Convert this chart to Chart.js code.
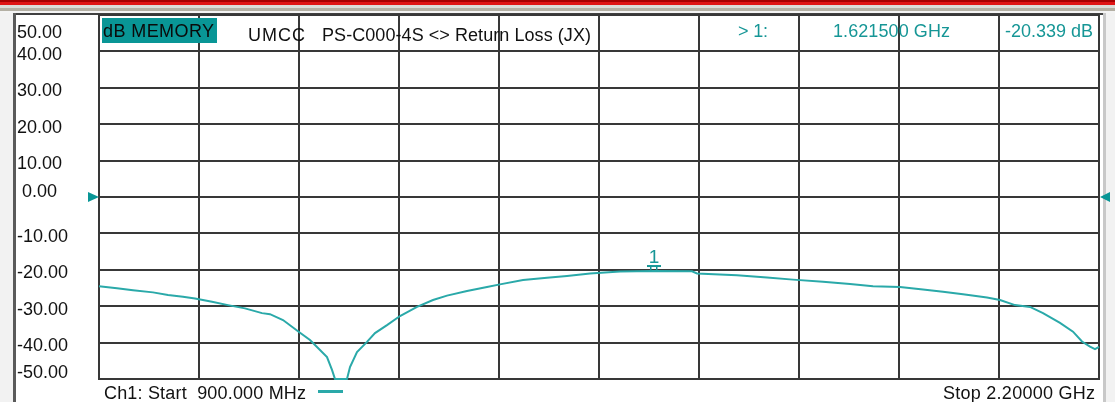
<!DOCTYPE html>
<html><head><meta charset="utf-8">
<script src="https://cdn.jsdelivr.net/npm/chart.js@4.4.1/dist/chart.umd.min.js"></script>
<style>html,body{margin:0;padding:0;background:#fff;overflow:hidden}#wrap{position:relative;width:1115px;height:402px}</style>
</head><body><div id="wrap"><canvas id="c" width="1115" height="402"></canvas></div>
<script>
// ---- data ----
const freqMHz = [900, 923.4, 944.2, 970.2, 989.7, 1009.2, 1024.8, 1046.9, 1067.7, 1089.8, 1111.9, 1122.3, 1139.2, 1160, 1174.3, 1183.4, 1196.4, 1202.9, 1206.8, 1214.6, 1222.4, 1226.3, 1235.4, 1248.4, 1258.8, 1274.4, 1291.3, 1313.4, 1334.2, 1352.4, 1378.4, 1404.4, 1421.3, 1451.2, 1482.4, 1508.4, 1538.3, 1577.3, 1621.5, 1670.9, 1677.4, 1729.4, 1768.4, 1802.2, 1841.2, 1876.3, 1906.2, 1941.3, 1971.2, 1997.2, 2023.2, 2054.4, 2071.3, 2090.8, 2110.3, 2127.2, 2149.3, 2166.2, 2177.9, 2188.3, 2194.8, 2200];
const lossDb = [-24.5, -25.1, -25.6, -26.2, -26.9, -27.4, -27.9, -28.8, -29.7, -30.6, -31.9, -32.2, -33.8, -37.1, -39.3, -41.2, -44.0, -47.5, -50, -50, -50, -46.7, -42.6, -39.8, -37.4, -35.2, -32.7, -30.2, -28.3, -27.1, -25.8, -24.7, -24.0, -22.8, -22.2, -21.7, -21.0, -20.5, -20.339, -20.4, -21.0, -21.5, -22.1, -22.7, -23.3, -23.9, -24.5, -24.7, -25.4, -26.0, -26.7, -27.6, -28.3, -29.7, -30.2, -31.9, -34.6, -37.0, -39.7, -41.1, -41.8, -41.2];
const startMHz = 900;
const stopMHz = 2200;
const xDivisions = 10;
const yMinDb = -50;
const yMaxDb = 50;
const yStepDb = 10;
const markerLabel = '1';
const markerFreqMHz = 1621.5;
const markerDb = -20.339;
const memoryTag = 'dB MEMORY';
const titleLeft = 'UMCC';
const titleMain = 'PS-C000-4S <> Return Loss (JX)';
const channelName = 'Ch1';

// ---- styles ----
const TEAL_TRACE = '#2aa9a9';
const TEAL_TEXT = '#169696';
const TEAL_BOX = '#099696';
const GRID = '#383838';
const TEXT = '#111';
const FONT = '"Liberation Sans", Arial, sans-serif';

function fitText(ctx, txt, x, base, w, color, size) {
  ctx.font = size + 'px ' + FONT;
  ctx.fillStyle = color;
  ctx.textAlign = 'left';
  ctx.textBaseline = 'alphabetic';
  const m = ctx.measureText(txt).width;
  if ('letterSpacing' in ctx && txt.length > 1) {
    ctx.letterSpacing = ((w - m) / (txt.length - 1)) + 'px';
    ctx.fillText(txt, x, base);
    ctx.letterSpacing = '0px';
  } else {
    ctx.save(); ctx.translate(x, base); ctx.scale(w / m, 1); ctx.fillText(txt, 0, 0); ctx.restore();
  }
}

const decor = {
  id: 'decor',
  beforeDraw(chart) {
    const ctx = chart.ctx;
    ctx.save();
    ctx.fillStyle = '#ffffff'; ctx.fillRect(0, 0, 1115, 402);
    ctx.fillStyle = '#f2f2f2'; ctx.fillRect(0, 13, 13, 389); ctx.fillRect(1106, 13, 9, 389);
    ctx.fillStyle = '#a80000'; ctx.fillRect(0, 0, 1115, 2);
    ctx.fillStyle = '#e01414'; ctx.fillRect(0, 2, 1115, 3);
    ctx.fillStyle = '#dcdcd8'; ctx.fillRect(0, 5, 1115, 3);
    ctx.fillStyle = '#b4b0a4'; ctx.fillRect(0, 8, 1115, 3);
    ctx.fillStyle = '#f4f4f4'; ctx.fillRect(0, 11, 1115, 2);
    ctx.fillStyle = '#404040'; ctx.fillRect(13, 13, 1092, 2);
    ctx.fillStyle = '#5a5a5a'; ctx.fillRect(13, 13, 3, 389);
    ctx.fillStyle = '#c8c8c8'; ctx.fillRect(1103, 13, 3, 389);
    ctx.restore();
  },
  afterDraw(chart) {
    const ctx = chart.ctx;
    const xs = chart.scales.x, ys = chart.scales.y, a = chart.chartArea;
    ctx.save();
    ctx.font = '18px ' + FONT;
    ctx.fillStyle = TEXT;
    ctx.textAlign = 'left';
    ctx.textBaseline = 'alphabetic';
    ys.ticks.forEach(t => {
      const py = ys.getPixelForValue(t.value);
      let base = t.value === 0 ? py : py + 8.5;
      base = Math.max(a.top + 22.5, Math.min(a.bottom - 0.7, base));
      ctx.fillText(t.value.toFixed(2), t.value === 0 ? 22 : 17, base);
    });
    ctx.fillStyle = TEAL_BOX; ctx.fillRect(102, 18, 115, 25);
    fitText(ctx, memoryTag, 103, 37, 111, '#0a0a0a', 18);
    fitText(ctx, titleLeft, 248, 40.5, 57, TEXT, 18);
    fitText(ctx, titleMain, 322, 40.5, 269, TEXT, 18);
    fitText(ctx, '> ' + markerLabel + ':', 738, 37, 30, TEAL_TEXT, 18);
    fitText(ctx, (markerFreqMHz / 1000).toFixed(6) + ' GHz', 833, 37, 117, TEAL_TEXT, 18);
    fitText(ctx, markerDb.toFixed(3) + ' dB', 1005, 37, 88, TEAL_TEXT, 18);
    fitText(ctx, channelName + ': Start  ' + startMHz.toFixed(3) + ' MHz', 104, 399, 202, TEXT, 18);
    ctx.fillStyle = TEAL_TRACE; ctx.fillRect(318, 390, 25, 3);
    fitText(ctx, 'Stop ' + (stopMHz / 1000).toFixed(5) + ' GHz', 943, 399, 152, TEXT, 18);
    const y0 = ys.getPixelForValue(0);
    ctx.fillStyle = TEAL_BOX;
    ctx.beginPath(); ctx.moveTo(a.left, y0); ctx.lineTo(a.left - 11, y0 - 5); ctx.lineTo(a.left - 11, y0 + 5); ctx.closePath(); ctx.fill();
    ctx.beginPath(); ctx.moveTo(a.right + 1, y0); ctx.lineTo(a.right + 11, y0 - 5); ctx.lineTo(a.right + 11, y0 + 5); ctx.closePath(); ctx.fill();
    const mx = xs.getPixelForValue(markerFreqMHz), my = ys.getPixelForValue(markerDb);
    ctx.fillStyle = TEAL_TEXT;
    ctx.fillRect(mx - 7, my - 6, 14, 2);
    ctx.fillRect(mx - 4, my - 6, 1.5, 5);
    ctx.fillRect(mx + 2, my - 6, 1.5, 5);
    ctx.font = '19px ' + FONT;
    ctx.textAlign = 'center';
    ctx.fillText(markerLabel, mx, my - 8);
    ctx.restore();
  }
};

const points = freqMHz.map((f, i) => ({ x: f, y: lossDb[i] }));

new Chart(document.getElementById('c'), {
  type: 'line',
  data: { datasets: [{ data: points, borderColor: TEAL_TRACE, borderWidth: 2, pointRadius: 0, tension: 0, fill: false, clip: false }] },
  options: {
    responsive: false, animation: false, devicePixelRatio: 1,
    layout: { padding: { left: 99, right: 16, top: 15, bottom: 23 } },
    plugins: { legend: { display: false }, tooltip: { enabled: false } },
    scales: {
      x: { type: 'linear', min: startMHz, max: stopMHz,
           ticks: { display: false, stepSize: (stopMHz - startMHz) / xDivisions },
           grid: { color: GRID, lineWidth: 2, drawTicks: false },
           border: { display: true, color: GRID, width: 2 } },
      y: { type: 'linear', min: yMinDb, max: yMaxDb,
           ticks: { display: false, stepSize: yStepDb },
           grid: { color: GRID, lineWidth: 2, drawTicks: false },
           border: { display: true, color: GRID, width: 2 } }
    }
  },
  plugins: [decor]
});
</script>
</body></html>
